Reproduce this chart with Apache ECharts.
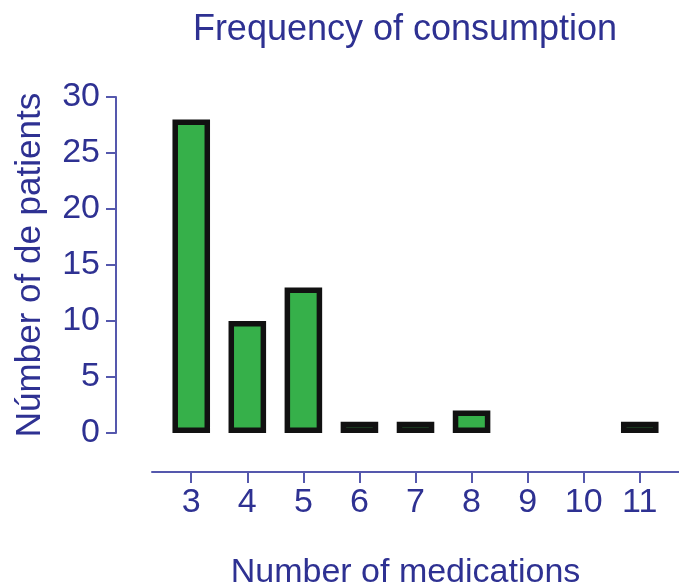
<!DOCTYPE html>
<html>
<head>
<meta charset="utf-8">
<script src="https://cdn.jsdelivr.net/npm/echarts@6/dist/echarts.min.js"></script>
<style>
  html, body { margin: 0; padding: 0; background: #fff; }
  #chart { width: 679px; height: 587px; }
</style>
</head>
<body>
<div id="chart"></div>
<script>
// data
var medications = [3, 4, 5, 6, 7, 8, 9, 10, 11];
var patients = [28, 10, 13, 1, 1, 2, 0, 0, 1];
var yTicks = [0, 5, 10, 15, 20, 25, 30];

var textColor = "#2e3192";
var lineColor = "#5558ad";
var green = "#36b04a";
var font = "'Liberation Sans', Arial, sans-serif";

var points = [];
for (var i = 0; i < medications.length; i++) {
  points.push([medications[i], patients[i]]);
}

// border drawn inside the bar, like the original
function renderBar(params, api) {
  var x = api.value(0);
  var v = api.value(1);
  if (!(v > 0)) return null;
  var top = api.coord([x, v]);
  var base = api.coord([x, 0]);
  var w = api.size([0.67, 0])[0];
  var bw = 5.5;
  return {
    type: "rect",
    shape: {
      x: top[0] - w / 2 + bw / 2,
      y: top[1] + bw / 2,
      width: w - bw,
      height: base[1] - top[1] - bw
    },
    style: { fill: green, stroke: "#111", lineWidth: bw }
  };
}

var chart = echarts.init(document.getElementById("chart"));
chart.setOption({
  animation: false,
  title: {
    text: "Frequency of consumption",
    left: 400,
    textAlign: "center",
    top: 7,
    textStyle: { color: textColor, fontFamily: font, fontSize: 36, fontWeight: "normal" }
  },
  grid: { left: 152, right: 0, top: 97, bottom: 154, outerBoundsMode: "none", containLabel: false },
  xAxis: {
    type: "value",
    min: 2.3,
    max: 11.7,
    offset: 39,
    name: "Number of medications",
    nameLocation: "middle",
    nameGap: 84,
    nameTextStyle: { color: textColor, fontFamily: font, fontSize: 34, padding: [0, 20, 0, 0] },
    axisLine: { show: true, onZero: false, lineStyle: { color: lineColor, width: 2 } },
    axisTick: { show: true, customValues: medications, length: 11, lineStyle: { color: lineColor, width: 2 } },
    axisLabel: { customValues: medications, color: textColor, fontFamily: font, fontSize: 34, margin: 14 },
    splitLine: { show: false }
  },
  yAxis: {
    type: "value",
    min: 0,
    max: 30,
    interval: 5,
    offset: 36,
    name: "Númber of de patients",
    nameLocation: "middle",
    nameGap: 68,
    nameTextStyle: { color: textColor, fontFamily: font, fontSize: 35 },
    axisLine: { show: true, lineStyle: { color: lineColor, width: 2 } },
    axisTick: { show: true, length: 10, lineStyle: { color: lineColor, width: 2 } },
    axisLabel: {
      color: textColor, fontFamily: font, fontSize: 34, margin: 16,
      customValues: yTicks
    },
    splitLine: { show: false }
  },
  series: [{
    type: "custom",
    renderItem: renderBar,
    encode: { x: 0, y: 1 },
    data: points,
    clip: false
  }]
});
</script>
</body>
</html>
